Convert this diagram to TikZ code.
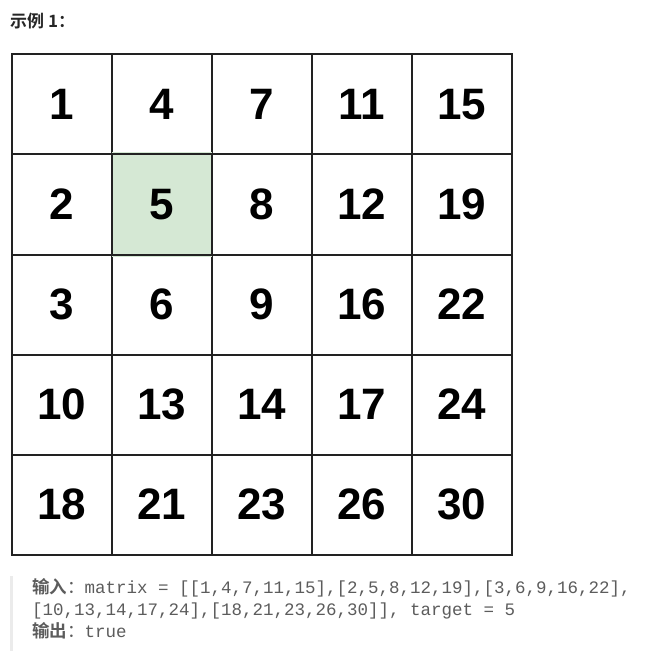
\documentclass[tikz,border=0pt]{standalone}
\usepackage{fontspec}
\setmainfont{Liberation Sans}
\newfontfamily\cjkfont{Noto Sans CJK SC}
\newfontfamily\cjkbold{Noto Sans CJK SC Bold}
\newfontfamily\codefont{Liberation Mono}
\definecolor{gridline}{HTML}{222222}
\definecolor{hit}{HTML}{D5E8D4}
\definecolor{codegray}{HTML}{5C5C5C}
\definecolor{titlecol}{HTML}{262626}
\definecolor{barcol}{HTML}{EBEBEB}
\tikzset{
  cell/.style={draw=gridline, line width=2pt, minimum size=100pt, inner sep=0pt,
    font=\fontsize{44}{48}\selectfont\bfseries, text=black},
  codeline/.style={anchor=base west, inner sep=0pt, text=codegray,
    font=\fontsize{17.5}{21}\selectfont\codefont},
}
\begin{document}
\begin{tikzpicture}[x=1pt,y=-1pt]
\useasboundingbox (0,0) rectangle (660,660);
% title
\node[anchor=base west, inner sep=0pt, text=titlecol] (title) at (10,28)
  {\fontsize{17}{20}\selectfont\cjkbold 示例 1：};
% grid
\foreach \r/\row in {0/{1,4,7,11,15},1/{2,5,8,12,19},2/{3,6,9,16,22},3/{10,13,14,17,24},4/{18,21,23,26,30}}{
  \foreach \v [count=\c from 0] in \row {
    \node[cell] (c-\r-\c) at (61.5+100*\c, 104.5+100*\r) {\v};
  }
}
\fill[hit] (c-1-1.south west) ++(1pt,-1pt) rectangle ([shift={(-1pt,1pt)}]c-1-1.north east);
\node[cell] at (c-1-1) {5};
% code block
\fill[barcol] (9.5,576) rectangle (12.5,651);
\node[codeline] (in1) at (32,593) {{\cjkbold 输入}{\cjkfont ：}matrix = [[1,4,7,11,15],[2,5,8,12,19],[3,6,9,16,22],};
\node[codeline] (in2) at (32,615) {[10,13,14,17,24],[18,21,23,26,30]], target = 5};
\node[codeline] (out) at (32,637) {{\cjkbold 输出}{\cjkfont ：}true};
\end{tikzpicture}
\end{document}
